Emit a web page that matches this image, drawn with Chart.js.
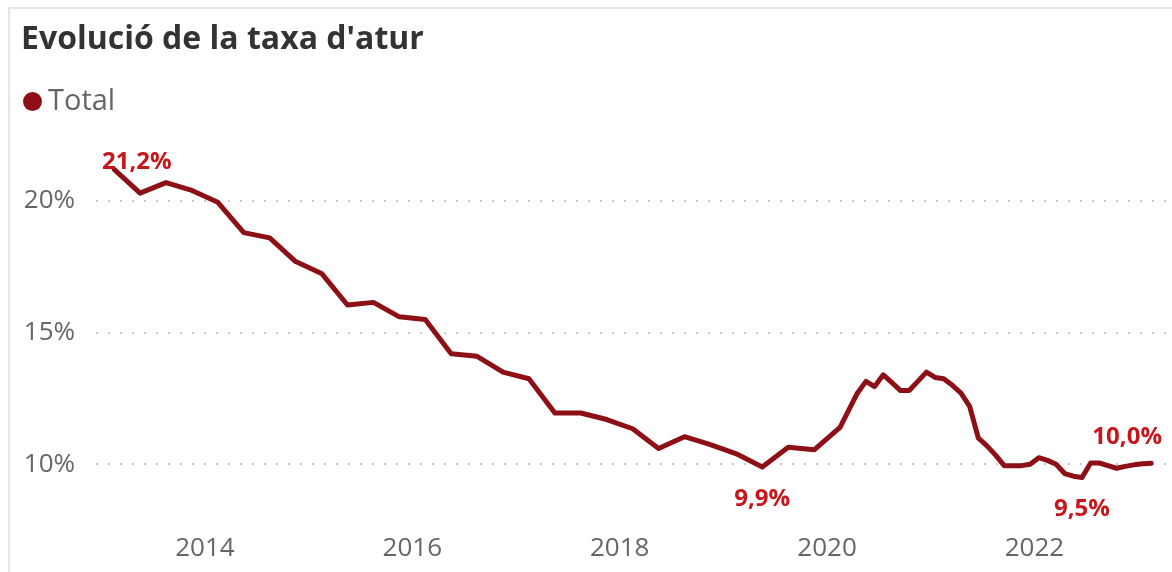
<!DOCTYPE html>
<html>
<head>
<meta charset="utf-8">
<script src="https://cdn.jsdelivr.net/npm/chart.js@4"></script>
<style>
  body { margin: 0; background: #fff; font-family: 'Open Sans', sans-serif; }
  .panel { position: absolute; left: 8px; top: 7px; width: 1170px; height: 570px;
           border-left: 2px solid #e6e6e6; border-top: 2px solid #e6e6e6; }
  h1 { position: absolute; left: 21px; top: 16px; margin: 0; font-size: 32px; line-height: 42px;
       font-weight: 700; color: #333; white-space: nowrap; }
  .legend { position: absolute; left: 23px; top: 80px; height: 38px; line-height: 38px;
            font-size: 29px; color: #666; white-space: nowrap; }
  .legend .dot { display: inline-block; width: 19px; height: 19px; border-radius: 50%;
                 background: #8c1016; margin-right: 6px; vertical-align: -1px; }
  canvas { position: absolute; left: 0; top: 0; }
</style>
</head>
<body>
<div class="panel"></div>
<canvas id="chart" width="1172" height="572"></canvas>
<h1>Evolució de la taxa d'atur</h1>
<div class="legend"><span class="dot"></span>Total</div>
<script>
// trimestral 2013 T1 - 2020 T1 (data al mes central del trimestre)
const quarters = [
  '2013-02', '2013-05', '2013-08', '2013-11',
  '2014-02', '2014-05', '2014-08', '2014-11',
  '2015-02', '2015-05', '2015-08', '2015-11',
  '2016-02', '2016-05', '2016-08', '2016-11',
  '2017-02', '2017-05', '2017-08', '2017-11',
  '2018-02', '2018-05', '2018-08', '2018-11',
  '2019-02', '2019-05', '2019-08', '2019-11',
  '2020-02'
]
const quarterValues = [
  21.2, 20.3, 20.7, 20.4,
  19.95, 18.8, 18.6, 17.7,
  17.25, 16.05, 16.15, 15.6,
  15.5, 14.2, 14.1, 13.5,
  13.25, 11.95, 11.95, 11.7,
  11.35, 10.6, 11.05, 10.75,
  10.4, 9.9, 10.65, 10.55,
  11.4
]
// mensual 2020-04 - 2023-02
const months = [
  '2020-04', '2020-05', '2020-06', '2020-07', '2020-08', '2020-09', '2020-10', '2020-11', '2020-12',
  '2021-01', '2021-02', '2021-03', '2021-04', '2021-05', '2021-06', '2021-07', '2021-08', '2021-09', '2021-10', '2021-11', '2021-12',
  '2022-01', '2022-02', '2022-03', '2022-04', '2022-05', '2022-06', '2022-07', '2022-08', '2022-09', '2022-10', '2022-11', '2022-12',
  '2023-01', '2023-02'
]
const monthValues = [
  12.7, 13.15, 12.95, 13.4, 13.1, 12.8, 12.8, 13.15, 13.5,
  13.3, 13.25, 13.0, 12.7, 12.2, 11.0, 10.7, 10.35, 9.95, 9.95, 9.95, 10.0,
  10.25, 10.15, 10.0, 9.65, 9.55, 9.5, 10.05, 10.05, 9.95, 9.85, 9.92, 9.98,
  10.02, 10.04
]
const yearTicks = [2014, 2016, 2018, 2020, 2022]
const percentTicks = [10, 15, 20]

// labelled points: first, minima and last
const labelAbove = ['2013-02', '2023-02']
const labelBelow = ['2019-05', '2022-06']

const toYear = (period) => {
  const [y, m] = period.split('-').map(Number)
  return y + (m - 0.5) / 12
}

const periods = quarters.concat(months)
const values = quarterValues.concat(monthValues)
const points = periods.map((p, i) => ({ x: toYear(p), y: values[i] }))

const fmt = (v) => v.toFixed(1).replace('.', ',') + '%'

const pointLabels = {
  id: 'pointLabels',
  afterDatasetsDraw(chart) {
    const { ctx, chartArea } = chart
    const meta = chart.getDatasetMeta(0)
    ctx.save()
    ctx.font = 'bold 24px "Open Sans"'
    ctx.fillStyle = '#c8161d'
    ctx.textAlign = 'center'
    ctx.textBaseline = 'middle'
    const draw = (period, dy) => {
      const i = periods.indexOf(period)
      const el = meta.data[i]
      const text = fmt(values[i])
      const w = ctx.measureText(text).width
      let x = el.x
      x = Math.max(x, chartArea.left + 6 + w / 2)
      x = Math.min(x, chartArea.right - 8 - w / 2)
      let y = el.y + dy
      y = Math.max(y, chartArea.top + 22)
      ctx.fillText(text, x, y)
    }
    labelAbove.forEach((p) => draw(p, -26))
    labelBelow.forEach((p) => draw(p, 32))
    ctx.restore()
  },
}

new Chart(document.getElementById('chart'), {
  type: 'line',
  data: {
    datasets: [
      {
        label: 'Total',
        data: points,
        borderColor: '#8c1016',
        backgroundColor: '#8c1016',
        borderWidth: 5,
        pointRadius: 0,
        tension: 0,
        borderJoinStyle: 'round',
        borderCapStyle: 'round',
      },
    ],
  },
  options: {
    responsive: false,
    animation: false,
    devicePixelRatio: 1,
    layout: { padding: { top: 140, right: 2, left: 0, bottom: 0 } },
    plugins: { legend: { display: false }, title: { display: false }, tooltip: { enabled: false } },
    scales: {
      x: {
        type: 'linear',
        min: 2012.95,
        max: 2023.307,
        afterBuildTicks: (axis) => { axis.ticks = yearTicks.map((v) => ({ value: v })) },
        afterFit: (axis) => { axis.height = 47 },
        grid: { display: false },
        border: { display: false },
        ticks: {
          color: '#666',
          font: { family: 'Open Sans', size: 26 },
          padding: 0,
          maxRotation: 0,
          autoSkip: false,
          callback: (v) => String(v),
        },
      },
      y: {
        min: 7.695,
        max: 22.317,
        afterBuildTicks: (axis) => { axis.ticks = percentTicks.map((v) => ({ value: v })) },
        afterFit: (axis) => { axis.width = 96 },
        grid: { color: '#c8c8c8', lineWidth: 2, drawTicks: false },
        border: { display: false, dash: [2, 10] },
        ticks: {
          color: '#666',
          font: { family: 'Open Sans', size: 26 },
          padding: 21,
          callback: (v) => v + '%',
        },
      },
    },
  },
  plugins: [pointLabels],
})
</script>
</body>
</html>
